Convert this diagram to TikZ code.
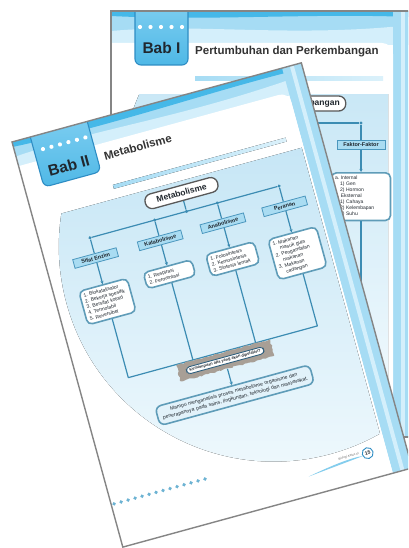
\documentclass[tikz,border=0pt]{standalone}
\usepackage{fontspec}
\setmainfont{Liberation Sans}
\usetikzlibrary{positioning, arrows.meta, decorations.pathmorphing}

\definecolor{pageline}{HTML}{858585}
\definecolor{banddark}{HTML}{45B8E8}
\definecolor{bandlight}{HTML}{A6DCF4}
\definecolor{bandpale}{HTML}{D4EFFB}
\definecolor{tabtop}{HTML}{86D2F3}
\definecolor{tabblue}{HTML}{4FB8E6}
\definecolor{tabedge}{HTML}{2E8DC4}
\definecolor{mapline}{HTML}{3C8CB3}
\definecolor{labelfill}{HTML}{A9DCF2}
\definecolor{labeledge}{HTML}{4B97BE}
\definecolor{listedge}{HTML}{5F9CB8}
\definecolor{paneltop}{HTML}{B9E0F3}
\definecolor{panelbot}{HTML}{F0F9FD}
\definecolor{goalfill}{HTML}{E2F2FA}
\definecolor{inktext}{HTML}{20272E}
\definecolor{torngray}{HTML}{A89F96}
\definecolor{askedge}{HTML}{2F5F7D}
\definecolor{dotblue}{HTML}{6DB3D3}

\tikzstyle{pageedge} = [draw=pageline, line width=1.4pt]
\tikzstyle{panelshade} = [top color=paneltop, bottom color=panelbot]
\tikzstyle{tabbox} = [top color=tabtop, bottom color=tabblue, draw=tabedge, line width=1.1pt]
\tikzstyle{tabtext} = [font=\fontsize{15.5}{16}\selectfont\bfseries, text=inktext, inner sep=0pt]
\tikzstyle{titletext} = [font=\fontsize{11.5}{12}\selectfont\bfseries, text=black!80, inner sep=0pt]
\tikzstyle{mainbox} = [draw=black!65, line width=1.3pt, fill=white, rounded corners=7pt, minimum height=15, inner xsep=6pt, font=\fontsize{8.5}{9}\selectfont\bfseries, text=inktext]
\tikzstyle{labelbox} = [draw=labeledge, line width=0.8pt, fill=labelfill, minimum height=9, minimum width=45, inner sep=1pt, font=\fontsize{5.5}{6}\selectfont\bfseries, text=inktext]
\tikzstyle{listbox} = [draw=listedge, line width=1.6pt, fill=white, rounded corners=5pt, align=left, text width=43, inner sep=3.5pt, font=\fontsize{5}{6}\selectfont, text=inktext]
\tikzstyle{joint} = [circle, fill=mapline, inner sep=0pt, minimum size=3.4pt]
\tikzstyle{link} = [draw=mapline, line width=1.2pt, line join=round]
\tikzstyle{linkarrow} = [link, -{Stealth[length=3.2pt, width=3.2pt]}]
\tikzstyle{tornbox} = [fill=torngray, minimum width=97, minimum height=17, decorate, decoration={random steps, segment length=2.2pt, amplitude=0.8pt}]
\tikzstyle{askbox} = [fill=white, draw=askedge, line width=0.9pt, rounded corners=3.5pt, inner xsep=3pt, inner ysep=1.6pt, font=\fontsize{4}{4.5}\selectfont\bfseries, text=inktext]
\tikzstyle{goalbox} = [fill=goalfill, draw=listedge, line width=1.6pt, rounded corners=6pt, text width=152, align=center, inner sep=4pt, font=\fontsize{5.1}{6.6}\selectfont, text=inktext]
\tikzstyle{pagenum} = [circle, draw=tabedge, line width=0.9pt, fill=white, inner sep=0.5pt, minimum size=11, font=\fontsize{5}{5}\selectfont\bfseries, text=inktext]
\tikzstyle{footnote} = [font=\fontsize{3}{3}\selectfont, text=black!60, inner sep=0.5pt]

\begin{document}
\begin{tikzpicture}[x=1pt, y=-1pt]
\useasboundingbox (0,0) rectangle (408,548);
\clip (0,0) rectangle (408,548);

%Back page: Bab I
\begin{scope}[shift={(111,11)}, transform shape]
  \begin{scope}
    \clip (0,0) rectangle (300,426);
    \fill[white] (0,0) rectangle (300,426);

    %Blue frame
    \fill[bandlight] (0,0) rectangle (300,34);
    \fill[banddark] (0,0) -- (300,0) -- (300,6) .. controls (200,2) and (100,10) .. (0,5) -- cycle;
    \fill[bandpale] (0,20) .. controls (90,12) and (180,27) .. (300,14) -- (300,34) -- (0,34) -- cycle;
    \fill[bandlight] (282,0) rectangle (300,426);
    \fill[bandpale] (290,0) rectangle (294,426);
    \fill[white, rounded corners=11pt] (-20,32) rectangle (282,460);

    %Panel
    \begin{scope}
      \clip (0,84) rectangle (277,426);
      \fill[panelshade] (225,170) circle (215);
    \end{scope}

    %Tab and title
    \draw[tabbox, rounded corners=6pt] (24,-20) rectangle (77,54);
    \foreach \k in {0,...,4}
      \fill[white] (29+10.5*\k,16) circle (2.1);
    \node[tabtext, anchor=base] (babI) at (50.5,42.5) {Bab I};
    \node[titletext, anchor=base west] (titleI) at (84,44) {Pertumbuhan dan Perkembangan};
    \fill[left color=bandlight, right color=bandlight!40] (84,66) rectangle (272,70);

    %Concept map
    \node[mainbox] (grow) at (161,92.5) {Pertumbuhan dan Perkembangan};
    \coordinate (growfoot) at (161,112);
    \coordinate (growleft) at (60,112);
    \node[joint] (fj) at (250,112) {};
    \draw[link] (grow) -- (growfoot);
    \draw[link] (growleft) -- (fj);
    \node[labelbox, minimum width=48] (faktor) at (250,134) {Faktor-Faktor};
    \draw[link] (fj) -- (faktor);
    \node[listbox, text width=52, anchor=north] (faktorlist) at (250,161)
      {a.\ Internal\\\hspace*{5pt}1) Gen\\\hspace*{5pt}2) Hormon\\b.\ Eksternal\\\hspace*{5pt}1) Cahaya\\\hspace*{5pt}2) Kelembapan\\\hspace*{5pt}3) Suhu};
    \draw[linkarrow] (faktor) -- (faktorlist);
    \coordinate (faktorfoot) at (250,330);
    \draw[link] (faktorlist) -- (faktorfoot);
  \end{scope}
  \draw[pageedge] (0,0) rectangle (300,426);
\end{scope}

%Front page: Bab II
\begin{scope}[shift={(12,142)}, rotate=15.3, transform shape]
  \begin{scope}
    \clip (0,0) rectangle (300,420);
    \fill[white] (0,0) rectangle (300,420);

    %Blue frame
    \fill[bandlight] (0,0) rectangle (300,28);
    \fill[banddark] (0,0) -- (300,0) -- (300,6) .. controls (210,3) and (110,11) .. (0,5) -- cycle;
    \fill[bandpale] (0,15) .. controls (90,9) and (170,22) .. (300,12) -- (300,28) -- (0,28) -- cycle;
    \fill[bandlight] (280,0) rectangle (300,420);
    \fill[bandpale] (288,0) rectangle (292,420);
    \fill[white, rounded corners=10pt] (-20,25) rectangle (280,460);

    %Panel
    \begin{scope}
      \clip (0,82) rectangle (278,420);
      \fill[panelshade] (225,170) circle (215);
    \end{scope}

    %Tab and title
    \draw[tabbox, rounded corners=6pt] (19,-20) rectangle (78,52);
    \foreach \k in {0,...,5}
      \fill[white] (28+8.8*\k,15) circle (2.1);
    \node[tabtext, anchor=base] (babII) at (48.5,43.5) {Bab II};
    \node[titletext, anchor=base west] (titleII) at (85,42) {Metabolisme};
    \fill[left color=bandlight, right color=bandlight!40] (86,68) rectangle (265,72);

    %Concept map
    \node[mainbox, minimum width=75] (meta) at (150,94) {Metabolisme};
    \node[joint] (jmid) at (150,113) {};
    \node[joint] (jsifat) at (50,113) {};
    \node[joint] (jkata) at (117,113) {};
    \node[joint] (jana) at (182,113) {};
    \node[joint] (jperan) at (246,113) {};
    \draw[link] (meta) -- (jmid);
    \draw[link] (jsifat) -- (jperan);

    \node[labelbox] (sifat) at (50,134) {Sifat Enzim};
    \node[labelbox] (kata) at (117,134) {Katabolisme};
    \node[labelbox] (ana) at (182,134) {Anabolisme};
    \node[labelbox] (peran) at (246,134) {Peranan};
    \draw[link] (jsifat) -- (sifat);
    \draw[link] (jkata) -- (kata);
    \draw[link] (jana) -- (ana);
    \draw[link] (jperan) -- (peran);

    \node[listbox, anchor=north] (sifatlist) at (50,161)
      {1.\ Biokatalisator\\2.\ Bekerja spesifik\\3.\ Bersifat koloid\\4.\ Termolabil\\5.\ Reversibel};
    \node[listbox, anchor=north] (katalist) at (117,160)
      {1.\ Respirasi\\2.\ Fermentasi};
    \node[listbox, anchor=north] (analist) at (182,159)
      {1.\ Fotosintesis\\2.\ Kemosintesis\\3.\ Sintesis lemak};
    \node[listbox, anchor=north] (peranlist) at (246,161)
      {1.\ Makanan\\\hspace*{6pt}masuk gula\\2.\ Pengambilan\\\hspace*{6pt}makanan\\3.\ Makanan\\\hspace*{6pt}cadangan};
    \draw[linkarrow] (sifat) -- (sifatlist);
    \draw[linkarrow] (kata) -- (katalist);
    \draw[linkarrow] (ana) -- (analist);
    \draw[linkarrow] (peran) -- (peranlist);

    \coordinate (sifatfoot) at (50,258);
    \coordinate (katafoot) at (117,258);
    \coordinate (anafoot) at (182,258);
    \coordinate (peranfoot) at (246,258);
    \draw[link] (sifatlist) -- (sifatfoot) -- (peranfoot) -- (peranlist);
    \draw[link] (katalist) -- (katafoot);
    \draw[link] (analist) -- (anafoot);

    \node[tornbox] (torn) at (148,267) {};
    \node[askbox] (ask) at (torn.center) {Kemampuan apa yang akan dipelajari?};
    \node[goalbox] (goal) at (148,303)
      {Mampu menganalisis proses metabolisme organisme dan\\penerapannya pada sains, lingkungan, teknologi dan masyarakat.};
    \draw[linkarrow] (torn) -- (goal);

    %Footer
    \foreach \k in {0,...,13}
      \fill[dotblue] (3+7.25*\k,376) circle (1.9);
    \fill[tabblue!70] (198,401) .. controls (225,396) and (245,394) .. (256,395.5)
      .. controls (245,396.5) and (225,398.5) .. (198,401) -- cycle;
    \node[pagenum] (pg) at (261,394) {15};
    \node[footnote, anchor=base east] (book) at (253,393) {Biologi Kelas XI};
  \end{scope}
  \draw[pageedge] (0,0) rectangle (300,420);
\end{scope}

\end{tikzpicture}
\end{document}
